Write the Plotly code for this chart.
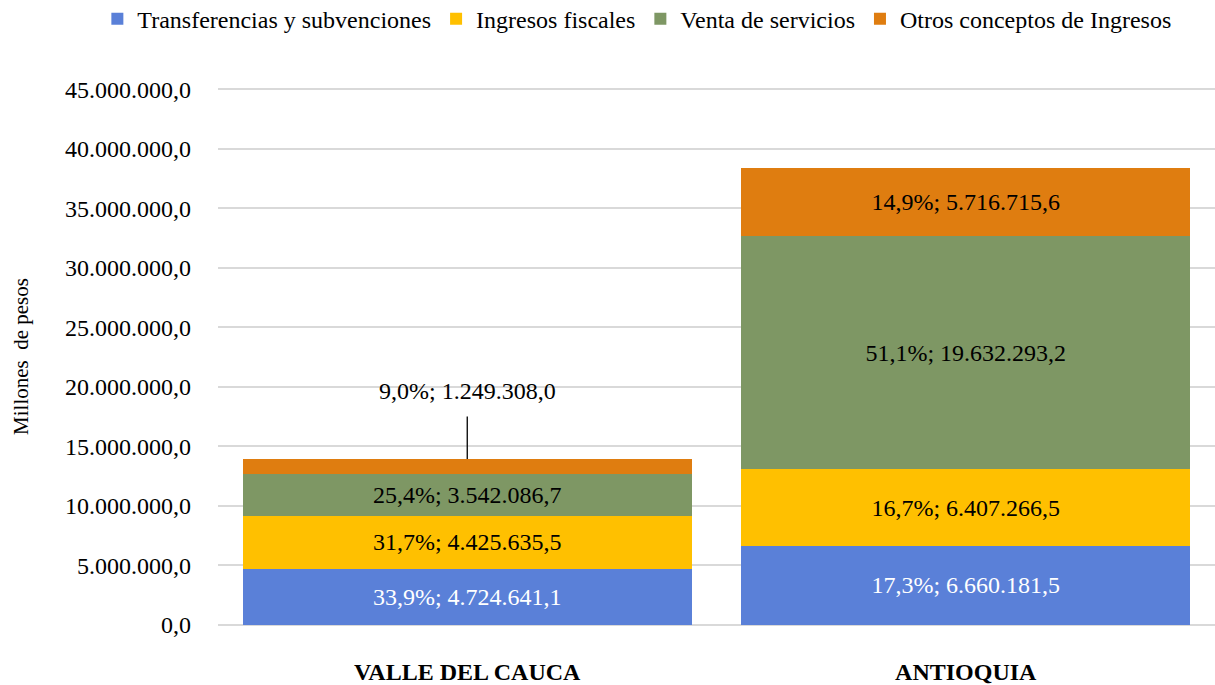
import plotly.graph_objects as go

categories = ["VALLE DEL CAUCA", "ANTIOQUIA"]
series_names = ["Transferencias y subvenciones", "Ingresos fiscales",
                "Venta de servicios", "Otros conceptos de Ingresos"]
transferencias = [4724641.1, 6660181.5]
ingresos_fiscales = [4425635.5, 6407266.5]
venta_servicios = [3542086.7, 19632293.2]
otros = [1249308.0, 5716715.6]
y_ticks = [0, 5e6, 10e6, 15e6, 20e6, 25e6, 30e6, 35e6, 40e6, 45e6]

colors = ["#5A80D8", "#FFC000", "#7E9764", "#DF7D10"]
text_colors = ["white", "black", "black", "black"]
series = [transferencias, ingresos_fiscales, venta_servicios, otros]
totals = [sum(s[i] for s in series) for i in range(len(categories))]


def es_num(v, dec=1):
    s = f"{v:,.{dec}f}"
    return s.replace(",", "X").replace(".", ",").replace("X", ".")


def label(v, tot):
    return f"{es_num(100 * v / tot)}%; {es_num(v)}"


FONT = "Liberation Serif, Times New Roman, serif"
FS = 24
fig = go.Figure()
for k, (name, vals) in enumerate(zip(series_names, series)):
    texts = [label(v, totals[i]) for i, v in enumerate(vals)]
    if k == 3:
        texts[0] = ""
    fig.add_trace(go.Bar(
        x=categories, y=vals, name=name, marker_color=colors[k],
        marker_line_width=0,
        text=texts, textposition="inside", insidetextanchor="middle",
        textangle=0, constraintext="none",
        textfont=dict(family=FONT, size=FS, color=text_colors[k]),
        hoverinfo="skip",
    ))

fig.add_annotation(
    x=categories[0], y=totals[0], text=label(otros[0], totals[0]),
    showarrow=True, arrowhead=0, arrowwidth=1.3, arrowcolor="black",
    ax=0, ay=-68, standoff=0, startstandoff=11,
    font=dict(family=FONT, size=FS, color="black"),
)

fig.update_layout(
    barmode="stack", bargap=0.1,
    width=1215, height=685,
    margin=dict(l=218, r=0, t=88, b=60, autoexpand=False),
    paper_bgcolor="white", plot_bgcolor="white",
    font=dict(family=FONT, size=FS, color="black"),
    legend=dict(orientation="h", x=-0.121, xanchor="left",
                y=1.17, yanchor="top", traceorder="normal",
                font=dict(family=FONT, size=FS), itemwidth=30,
                tracegroupgap=0),
    showlegend=True,
)
fig.update_yaxes(
    range=[0, 45.1e6], tickvals=y_ticks,
    ticktext=[es_num(t) for t in y_ticks],
    showgrid=True, gridcolor="#D9D9D9", gridwidth=1.5,
    zeroline=True, zerolinecolor="#D9D9D9", zerolinewidth=1.5,
    tickfont=dict(family=FONT, size=FS), ticks="", ticklabelstandoff=26,
    title=dict(text="Millones  de pesos", font=dict(family=FONT, size=21),
               standoff=30),
)
fig.update_xaxes(
    tickfont=dict(family=FONT, size=FS),
    ticktext=[f"<b>{c}</b>" for c in categories], tickvals=categories,
    showline=False, ticks="", ticklabelstandoff=30,
)
fig.write_html("out.html", config={"displayModeBar": False},
               post_script="document.body.style.margin='0';")
